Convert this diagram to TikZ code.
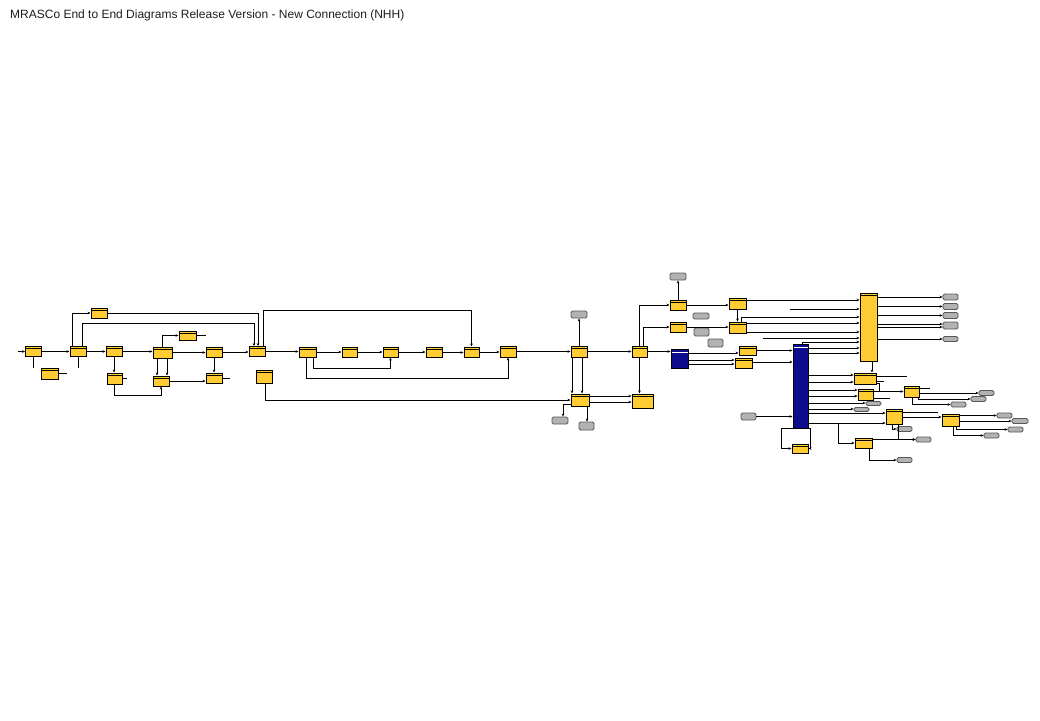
\documentclass[tikz,border=0pt]{standalone}
\usepackage{fontspec}
\setmainfont{Liberation Sans}
\usetikzlibrary{arrows.meta, calc}
\definecolor{cYellow}{RGB}{255,204,51}
\definecolor{cGrey}{RGB}{178,178,178}
\definecolor{cNavy}{RGB}{12,12,140}
\definecolor{cTitle}{RGB}{30,30,30}
\tikzset{
  basebox/.style={rectangle, draw=black, line width=1pt, inner sep=0pt,
                  minimum width=16pt, minimum height=10pt},
  procbox/.style={basebox, fill=cYellow,
                  path picture={\draw[line width=0.8pt]
                    ([yshift=-2.2pt]path picture bounding box.north west) --
                    ([yshift=-2.2pt]path picture bounding box.north east);}},
  extbox/.style={basebox, fill=cGrey, draw=black!65, line width=0.8pt,
                 rounded corners=1.5pt, minimum width=15pt, minimum height=5pt},
  navybox/.style={basebox, fill=cNavy,
                  path picture={\draw[white, line width=0.6pt]
                    ([yshift=-3pt]path picture bounding box.north west) --
                    ([yshift=-3pt]path picture bounding box.north east);}},
  link/.style={-{Stealth[length=3pt, width=2.6pt]}, line width=0.9pt},
  wire/.style={line width=0.9pt}
}

\begin{document}
\begin{tikzpicture}[x=1pt, y=-1pt]

  \fill[white] (0,0) rectangle (1040,720);
  \useasboundingbox (0,0) rectangle (1040,720);

  % Title
  \node[anchor=base west, text=cTitle, inner sep=0pt,
        font=\fontsize{12}{14}\selectfont] (title) at (10,18)
      {MRASCo End to End Diagrams Release Version - New Connection (NHH)};

  % Left chain
  \node[procbox] (A) at (33.5,351.5) {};
  \node[procbox] (B) at (78,351.5) {};
  \node[procbox] (C) at (99,313) {};
  \node[procbox, minimum width=17pt, minimum height=11pt] (D) at (49.5,373.5) {};
  \node[procbox] (E) at (114,351.5) {};
  \node[procbox, minimum width=15pt, minimum height=11pt] (F) at (114.5,378.5) {};
  \node[procbox, minimum width=19pt, minimum height=11pt] (H) at (162.5,352.5) {};
  \node[procbox, minimum width=17pt, minimum height=9pt] (I) at (187.5,335.5) {};
  \node[procbox] (J) at (214,352) {};
  \node[procbox] (K) at (161,381) {};
  \node[procbox] (L) at (214,378) {};
  \node[procbox] (G) at (257,351.5) {};
  \node[procbox, minimum height=13pt] (G2) at (264,376.5) {};

  % Middle chain
  \node[procbox, minimum width=17pt] (N) at (307.5,352) {};
  \node[procbox, minimum width=15pt] (O) at (349.5,352) {};
  \node[procbox, minimum width=15pt] (P) at (390.5,352) {};
  \node[procbox] (Q) at (434,352.5) {};
  \node[procbox, minimum width=15pt] (M) at (471.5,352) {};
  \node[procbox, minimum height=11pt] (R) at (508,351.5) {};

  % Handover block
  \node[procbox, minimum height=11pt] (S) at (579,351.5) {};
  \node[extbox, minimum width=16pt, minimum height=7pt] (T) at (579,314.5) {};
  \node[procbox, minimum width=18pt, minimum height=12pt] (U) at (580,400) {};
  \node[procbox, minimum width=21pt, minimum height=14pt] (V) at (642.5,401) {};
  \node[procbox, minimum width=15pt, minimum height=11pt] (W) at (639.5,351.5) {};
  \node[extbox, minimum width=16pt, minimum height=7pt] (X) at (560,420.5) {};
  \node[extbox, minimum height=8pt] (Y) at (586.5,426) {};

  % Upper right block
  \node[extbox, minimum width=16pt, minimum height=7pt] (Z1) at (678,276.5) {};
  \node[procbox] (AA) at (678,305) {};
  \node[procbox] (AB) at (678,327) {};
  \node[procbox, minimum width=17pt, minimum height=11pt] (AC) at (737.5,303.5) {};
  \node[procbox, minimum width=17pt, minimum height=11pt] (AD) at (737.5,327.5) {};
  \node[extbox, minimum width=16pt, minimum height=6pt] (AE) at (701,316) {};
  \node[extbox, minimum height=8pt] (AF) at (701.5,332) {};
  \node[extbox, minimum height=8pt] (AG) at (715.5,343) {};
  \node[navybox, minimum width=17pt, minimum height=19pt] (NB) at (679.5,358.5) {};
  \node[procbox, minimum width=17pt, minimum height=9pt] (AH) at (747.5,350.5) {};
  \node[procbox, minimum width=17pt] (AI) at (743.5,363) {};
  \node[procbox, minimum width=17pt, minimum height=68pt] (BY) at (868.5,327) {};
  \node[navybox, minimum width=15pt, minimum height=84pt] (NC) at (800.5,386) {};

  % Outputs of the tall box
  \node[extbox, minimum height=6pt] (GG1) at (950.5,297) {};
  \node[extbox, minimum height=6pt] (GG2) at (950.5,306.5) {};
  \node[extbox, minimum height=6pt] (GG3) at (950.5,315.5) {};
  \node[extbox, minimum height=7pt] (GG4) at (950.5,325.5) {};
  \node[extbox] (GG5) at (950.5,339) {};

  % Lower right block
  \node[procbox, minimum width=22pt, minimum height=11pt] (BZ) at (865,378.5) {};
  \node[procbox, minimum width=15pt, minimum height=11pt] (CB) at (865.5,394.5) {};
  \node[extbox, minimum height=4pt] (CG) at (873.5,403.5) {};
  \node[extbox, minimum height=4pt] (CH) at (861.5,409.5) {};
  \node[procbox, minimum width=17pt] (CC) at (863.5,443) {};
  \node[procbox, minimum height=9pt] (CD) at (800,448.5) {};
  \node[extbox, minimum height=7pt] (CE) at (748.5,416.5) {};
  \node[procbox, minimum height=15pt] (DA) at (894,416.5) {};
  \node[procbox, minimum width=15pt, minimum height=11pt] (DB) at (911.5,391.5) {};
  \node[procbox, minimum width=17pt, minimum height=12pt] (DC) at (950.5,420) {};
  \node[extbox] (GA) at (986.5,393) {};
  \node[extbox] (GB) at (978.5,399) {};
  \node[extbox] (GC) at (958.5,404.5) {};
  \node[extbox] (GD) at (904.5,429) {};
  \node[extbox] (GE) at (923.5,439.5) {};
  \node[extbox] (GF) at (904.5,460) {};
  \node[extbox] (GGa) at (1004.5,415.5) {};
  \node[extbox, minimum width=16pt] (GH) at (1020,421) {};
  \node[extbox] (GI) at (1015.5,429.5) {};
  \node[extbox] (GJ) at (991.5,435.5) {};

  % Free ends
  \coordinate (inA) at (18,351.5);
  \coordinate (aS) at (33.5,368);
  \coordinate (bS) at (78,368);
  \coordinate (dE) at (67,373.5);
  \coordinate (fE) at (127,378.5);
  \coordinate (iE) at (206,335.5);
  \coordinate (lE) at (230,378);
  \coordinate (yIn1) at (790,309);
  \coordinate (yIn2) at (763,338);
  \coordinate (bzE1) at (907,376.5);
  \coordinate (bzE2) at (884,381);
  \coordinate (dbE) at (930,388);
  \coordinate (cbE1) at (890,391.5);
  \coordinate (cbE2) at (890,398);
  \coordinate (daE) at (938,412);

  % Left chain links
  \draw[link] (inA) -- (A.west);
  \draw[link] (A.east) -- (B.west);
  \draw[wire] (A.south) -- (aS);
  \draw[link] ([xshift=-6pt]B.north) |- (C.west);
  \draw[link] ([xshift=4pt]B.north) |- (254,323) -- ([xshift=-3pt]G.north);
  \draw[link] (C.east) -| ([xshift=1pt]G.north);
  \draw[wire] (B.south) -- (bS);
  \draw[wire] (D.east) -- (dE);
  \draw[link] (B.east) -- (E.west);
  \draw[link] (E.south) -- (E.south |- F.north);
  \draw[wire] (F.east) -- (fE);
  \draw[link] (F.south) -- ++(0,11) -| (K.south);
  \draw[link] (E.east) -- (E.east -| H.west);
  \draw[link] (H.north) |- (I.west);
  \draw[wire] (I.east) -- (iE);
  \draw[link] (H.east) -- (H.east -| J.west);
  \draw[link] (J.south) -- (L.north);
  \draw[link] ([xshift=-5.5pt]H.south) -- ([xshift=-5.5pt]H.south |- K.north);
  \draw[link] ([xshift=4.5pt]H.south) -- ([xshift=4.5pt]H.south |- K.north);
  \draw[link] (K.east) -- (K.east -| L.west);
  \draw[wire] (L.east) -- (lE);
  \draw[link] (J.east) -- (J.east -| G.west);

  % Middle chain links
  \draw[link] (G.east) -- (G.east -| N.west);
  \draw[link] (N.east) -- (O.west);
  \draw[link] (O.east) -- (P.west);
  \draw[link] (P.east) -- (P.east -| Q.west);
  \draw[link] (Q.east) -- (Q.east -| M.west);
  \draw[link] (M.east) -- (M.east -| R.west);
  \draw[link] ([xshift=6pt]G.north) -- ++(0,-35.5) -| (M.north);
  \draw[link] ([xshift=5.5pt]N.south) -- ++(0,11) -| (P.south);
  \draw[link] ([xshift=-1.5pt]N.south) -- ++(0,21) -| (R.south);
  \draw[link] ([xshift=1pt]G2.south) |- (U.west);

  % Handover links
  \draw[link] (R.east) -- (R.east -| S.west);
  \draw[link] (S.north) -- (T.south);
  \draw[link] ([xshift=-7pt]S.south) -- ([xshift=-7pt]S.south |- U.north);
  \draw[link] ([xshift=3pt]S.south) -- ([xshift=3pt]S.south |- U.north);
  \draw[link] ([yshift=-4pt]U.west) -| ([xshift=3pt]X.north);
  \draw[link] ([xshift=7pt]U.south) -- ([xshift=7pt]U.south |- Y.north);
  \draw[link] ([yshift=4pt]U.east) -- ([yshift=4pt]U.east -| V.west);
  \draw[link] ([yshift=-2pt]U.east) -- ([yshift=-2pt]U.east -| V.west);
  \draw[link] (S.east) -- (S.east -| W.west);
  \draw[link] (W.south) -- (W.south |- V.north);
  \draw[link] (W.north) |- (AA.west);
  \draw[link] ([xshift=4pt]W.north) |- (AB.west);
  \draw[link] (W.east) -- (W.east -| NB.west);
  \draw[link] (AA.north) -- (Z1.south);

  % Upper right links
  \draw[link] (AA.east) -- (AA.east -| AC.west);
  \draw[link] ([yshift=3.5pt]AC.east) -- ([yshift=3.5pt]AC.east -| BY.west);
  \draw[link] (AC.south) -- (AD.north);
  \draw[link] (AB.east) -- (AB.east -| AD.west);
  \draw[link] (yIn1) -- (yIn1 -| BY.west);
  \draw[link] ([xshift=4pt]AD.north) |- ([yshift=10pt]BY.west);
  \draw[link] ([yshift=4.5pt]AD.east) -- ([yshift=4.5pt]AD.east -| BY.west);
  \draw[link] ([yshift=-4.5pt]AD.east) -- ([yshift=-4.5pt]AD.east -| BY.west);
  \draw[link] (yIn2) -- (yIn2 -| BY.west);
  \draw[link] ([xshift=1.5pt]NC.north) |- ([yshift=-15pt]BY.west);
  \draw[link] ([yshift=38pt]NC.east) -- ([yshift=38pt]NC.east -| BY.west);
  \draw[link] ([yshift=33pt]NC.east) -- ([yshift=33pt]NC.east -| BY.west);
  \draw[link] ([yshift=5.5pt]NB.east) -- ([yshift=5.5pt]NB.east -| AH.west);
  \draw[link] ([yshift=-1.5pt]NB.east) -- ([yshift=-1.5pt]NB.east -| AI.west);
  \draw[link] ([yshift=-5.5pt]NB.east) -- ([yshift=-5.5pt]NB.east -| AI.west);
  \draw[link] (AH.east) -- (AH.east -| NC.west);
  \draw[link] ([yshift=1pt]AI.east) -- ([yshift=1pt]AI.east -| NC.west);

  % Outputs
  \foreach \g in {GG1,GG2,GG3,GG5}
    \draw[link] (BY.east |- \g.west) -- (\g.west);
  \draw[link] ([yshift=1.5pt]GG4.west -| BY.east) -- ([yshift=1.5pt]GG4.west);
  \draw[link] ([yshift=-1.5pt]GG4.west -| BY.east) -- ([yshift=-1.5pt]GG4.west);
  \draw[link] ([xshift=3.5pt]BY.south) -- ([xshift=3.5pt]BY.south |- BZ.north);

  % Lower right links
  \draw[link] ([yshift=11pt]NC.east) -- ([yshift=11pt]NC.east -| BZ.west);
  \draw[link] ([yshift=4pt]NC.east) -- ([yshift=4pt]NC.east -| BZ.west);
  \draw[link] ([yshift=-4pt]NC.east) -- ([yshift=-4pt]NC.east -| CB.west);
  \draw[link] ([yshift=-10pt]NC.east) -- ([yshift=-10pt]NC.east -| CB.west);
  \draw[link] ([yshift=-17pt]NC.east) -- ([yshift=-17pt]NC.east -| CG.west);
  \draw[link] ([yshift=-23pt]NC.east) -- ([yshift=-23pt]NC.east -| CH.west);
  \draw[link] ([yshift=-27pt]NC.east) -- ([yshift=-27pt]NC.east -| DA.west);
  \draw[link] ([yshift=-37pt]NC.east) -- ([yshift=-37pt]NC.east -| DA.west);
  \draw[link] ([yshift=-37pt]NC.east) -- ++(30,0) |- (CC.west);
  \draw[link] (CE.east) -- (CE.east -| NC.west);
  \draw[link] (NC.south west) -- ++(-11,0) |- (CD.west);
  \draw[link] (NC.south east) -- ++(2,0) |- (CD.east);
  \draw[wire] ([yshift=2pt]BZ.east) -- (bzE1);
  \draw[wire] ([yshift=-2.5pt]BZ.east) -- (bzE2);
  \draw[link] ([yshift=-5pt]BZ.east) -- ++(3,0) |- (DB.west);
  \draw[wire] ([yshift=3.5pt]DB.east) -- (dbE);
  \draw[link] ([yshift=-1.5pt]DB.east) -- ([yshift=-1.5pt]DB.east -| GA.west);
  \draw[link] ([xshift=6.5pt]DB.south) |- (GB.west);
  \draw[link] ([xshift=0.5pt]DB.south) |- (GC.west);
  \draw[wire] ([yshift=3pt]CB.east) -- (cbE1);
  \draw[wire] ([yshift=-3.5pt]CB.east) -- (cbE2);
  \draw[wire] ([yshift=4.5pt]DA.east) -- (daE);
  \draw[link] ([yshift=-0.5pt]DA.east) -- ([yshift=-0.5pt]DA.east -| DC.west);
  \draw[link] ([xshift=-2pt]DA.south) |- (GD.west);
  \draw[link] ([xshift=4pt]DA.south) |- (GE.west);
  \draw[link] ([yshift=3.5pt]CC.east) -- ([yshift=3.5pt]CC.east -| GE.west);
  \draw[link] ([xshift=5.5pt]CC.south) |- (GF.west);
  \draw[link] ([yshift=4.5pt]DC.east) -- ([yshift=4.5pt]DC.east -| GGa.west);
  \draw[link] ([yshift=-1pt]DC.east) -- ([yshift=-1pt]DC.east -| GH.west);
  \draw[link] ([xshift=6pt]DC.south) |- (GI.west);
  \draw[link] ([xshift=3pt]DC.south) |- (GJ.west);

\end{tikzpicture}
\end{document}
